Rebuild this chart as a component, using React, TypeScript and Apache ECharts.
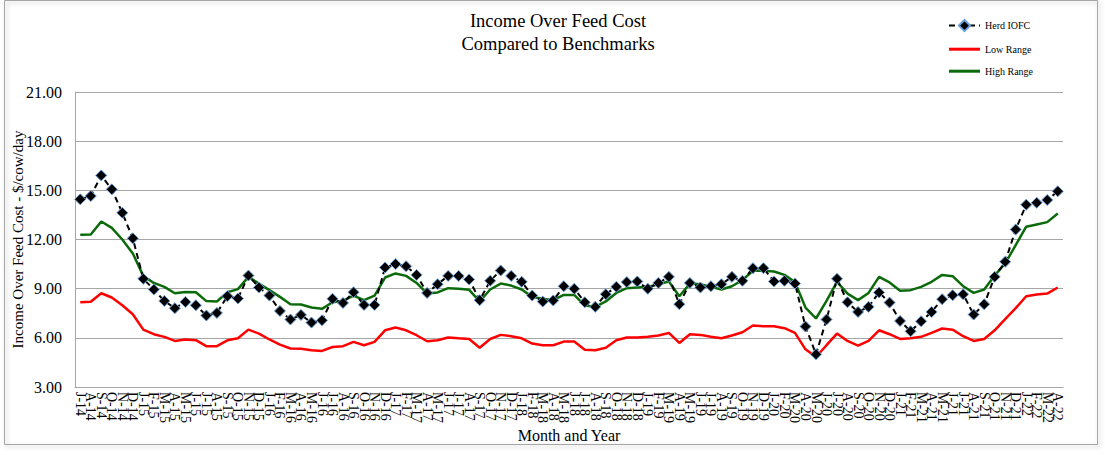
import React, { useEffect, useRef } from "react";
import * as echarts from "echarts";

const categories: string[] = [
  "J-14", "A-14", "S-14", "O-14", "N-14", "D-14",
  "J-15", "F-15", "M-15", "A-15", "M-15", "J-15", "J-15", "A-15", "S-15", "O-15", "N-15", "D-15",
  "J-16", "F-16", "M-16", "A-16", "M-16", "J-16", "J-16", "A-16", "S-16", "O-16", "N-16", "D-16",
  "J-17", "F-17", "M-17", "A-17", "M-17", "J-17", "J-17", "A-17", "S-17", "O-17", "N-17", "D-17",
  "J-18", "F-18", "M-18", "A-18", "M-18", "J-18", "J-18", "A-18", "S-18", "O-18", "N-18", "D-18",
  "J-19", "F-19", "M-19", "A-19", "M-19", "J-19", "J-19", "A-19", "S-19", "O-19", "N-19", "D-19",
  "J-20", "F-20", "M-20", "A-20", "M-20", "J-20", "J-20", "A-20", "S-20", "O-20", "N-20", "D-20",
  "J-21", "F-21", "M-21", "A-21", "M-21", "J-21", "J-21", "A-21", "S-21", "O-21", "N-21", "D-21",
  "J-22", "F-22", "M-22", "A-22",
];

const herdIOFC: number[] = [
  14.45, 14.65, 15.91, 15.06, 13.63, 12.07, 9.6, 8.95, 8.25, 7.81,
  8.19, 7.99, 7.36, 7.52, 8.54, 8.4, 9.8, 9.07, 8.58, 7.64,
  7.12, 7.4, 6.93, 7.07, 8.38, 8.13, 8.78, 8.01, 8.01, 10.29,
  10.5, 10.37, 9.84, 8.74, 9.27, 9.78, 9.78, 9.56, 8.3, 9.48,
  10.11, 9.78, 9.42, 8.58, 8.21, 8.28, 9.15, 8.99, 8.17, 7.89,
  8.66, 9.11, 9.4, 9.44, 8.99, 9.35, 9.72, 8.05, 9.35, 9.07,
  9.15, 9.27, 9.72, 9.48, 10.25, 10.25, 9.44, 9.48, 9.31, 6.69,
  5.0, 7.12, 9.6, 8.17, 7.58, 7.89, 8.77, 8.15, 7.03, 6.4,
  7.01, 7.58, 8.36, 8.6, 8.66, 7.42, 8.05, 9.72, 10.64, 12.61,
  14.12, 14.24, 14.41, 14.94,
];

const lowRange: number[] = [
  8.17, 8.2, 8.72, 8.46, 7.99, 7.44, 6.5, 6.22, 6.06, 5.81,
  5.9, 5.86, 5.49, 5.49, 5.85, 5.97, 6.5, 6.26, 5.9, 5.59,
  5.35, 5.34, 5.24, 5.2, 5.44, 5.49, 5.75, 5.55, 5.75, 6.46,
  6.63, 6.46, 6.16, 5.79, 5.85, 6.02, 5.97, 5.93, 5.4, 5.93,
  6.18, 6.1, 5.97, 5.65, 5.55, 5.55, 5.77, 5.77, 5.28, 5.24,
  5.4, 5.85, 6.02, 6.02, 6.06, 6.14, 6.3, 5.69, 6.22, 6.18,
  6.06, 5.97, 6.14, 6.34, 6.75, 6.71, 6.71, 6.59, 6.3, 5.3,
  4.83, 5.55, 6.26, 5.81, 5.53, 5.81, 6.46, 6.22, 5.93, 5.97,
  6.06, 6.3, 6.57, 6.5, 6.1, 5.81, 5.93, 6.46, 7.14, 7.81,
  8.54, 8.64, 8.7, 9.07,
];

const highRange: number[] = [
  12.29, 12.3, 13.1, 12.71, 12.0, 11.15, 9.78, 9.35, 9.11, 8.72,
  8.8, 8.78, 8.24, 8.22, 8.78, 8.97, 9.72, 9.31, 8.91, 8.5,
  8.05, 8.03, 7.85, 7.77, 8.17, 8.25, 8.58, 8.3, 8.58, 9.68,
  9.93, 9.78, 9.35, 8.7, 8.77, 9.03, 9.0, 8.93, 8.22, 8.95,
  9.31, 9.19, 8.95, 8.5, 8.38, 8.3, 8.62, 8.62, 7.97, 7.89,
  8.22, 8.74, 9.03, 9.07, 9.11, 9.27, 9.44, 8.54, 9.31, 9.27,
  9.11, 8.95, 9.15, 9.52, 10.09, 10.09, 10.05, 9.84, 9.4, 7.85,
  7.18, 8.25, 9.42, 8.7, 8.3, 8.74, 9.72, 9.38, 8.87, 8.91,
  9.11, 9.42, 9.84, 9.76, 9.15, 8.74, 8.95, 9.8, 10.54, 11.66,
  12.78, 12.92, 13.06, 13.59,
];

const FONT = "Liberation Serif, Times New Roman, serif";
const BAR_ICON = "path://M0,0 L31,0 L31,3 L0,3 Z";

export default function App() {
  const ref = useRef<HTMLDivElement>(null);

  useEffect(() => {
    document.body.style.margin = "0";
    if (!ref.current) return;
    const chart = echarts.init(ref.current, undefined, { renderer: "svg" });
    chart.setOption({
      animation: false,
      backgroundColor: "#ffffff",
      textStyle: { fontFamily: FONT, color: "#000" },
      graphic: [
        {
          type: "rect",
          shape: { x: 4.5, y: 0.5, width: 1093, height: 444 },
          style: {
            fill: "none",
            stroke: "#a6a6a6",
            lineWidth: 1,
            shadowBlur: 4,
            shadowOffsetX: 2,
            shadowOffsetY: 2,
            shadowColor: "rgba(0,0,0,0.25)",
          },
          silent: true,
          z: -1,
        },
      ],
      title: {
        text: "Income Over Feed Cost\nCompared to Benchmarks",
        left: 553,
        textAlign: "center",
        top: 4,
        textStyle: {
          fontFamily: FONT,
          fontSize: 18.5,
          fontWeight: "normal",
          color: "#000",
          lineHeight: 23,
        },
      },
      legend: {
        orient: "vertical",
        left: 943,
        top: 14,
        itemWidth: 31,
        itemHeight: 14,
        itemGap: 12,
        textStyle: { fontFamily: FONT, fontSize: 10, color: "#000" },
        data: [
          { name: "Herd IOFC" },
          { name: "Low Range", icon: BAR_ICON },
          { name: "High Range", icon: BAR_ICON },
        ],
      },
      grid: {
        left: 75,
        right: 42,
        top: 92,
        bottom: 68,
        containLabel: false,
        outerBoundsMode: "none",
      },
      xAxis: {
        type: "category",
        data: categories,
        boundaryGap: true,
        name: "Month and Year",
        nameLocation: "middle",
        nameGap: 40,
        nameMoveOverlap: false,
        nameTextStyle: { fontFamily: FONT, fontSize: 16, color: "#000" },
        axisLine: { lineStyle: { color: "#a6a6a6", width: 1 } },
        axisTick: { show: false },
        axisLabel: {
          interval: 0,
          rotate: -90,
          margin: 5,
          fontFamily: FONT,
          fontSize: 14,
          color: "#000",
        },
        splitLine: { show: false },
      },
      yAxis: {
        type: "value",
        min: 3,
        max: 21,
        interval: 3,
        name: "Income Over Feed Cost - $/cow/day",
        nameLocation: "middle",
        nameGap: 50,
        nameMoveOverlap: false,
        nameTextStyle: { fontFamily: FONT, fontSize: 15, color: "#000" },
        axisLine: { show: true, lineStyle: { color: "#a6a6a6", width: 1 } },
        axisTick: { show: false },
        axisLabel: {
          margin: 13,
          fontFamily: FONT,
          fontSize: 16,
          color: "#000",
          formatter: (v: number) => v.toFixed(2),
        },
        splitLine: { show: true, lineStyle: { color: "#a6a6a6", width: 1 } },
      },
      series: [
        {
          name: "Herd IOFC",
          type: "line",
          data: herdIOFC,
          symbol: "diamond",
          symbolSize: 11,
          showAllSymbol: true,
          itemStyle: { color: "#000000", borderColor: "#6a9fd8", borderWidth: 1 },
          lineStyle: { color: "#000000", width: 2, type: [6, 4] },
          z: 3,
        },
        {
          name: "Low Range",
          type: "line",
          data: lowRange,
          symbol: "none",
          itemStyle: { color: "#ff0000" },
          lineStyle: { color: "#ff0000", width: 2.5 },
          z: 2,
        },
        {
          name: "High Range",
          type: "line",
          data: highRange,
          symbol: "none",
          itemStyle: { color: "#0b6b0b" },
          lineStyle: { color: "#0b6b0b", width: 2.5 },
          z: 2,
        },
      ],
    });
    return () => chart.dispose();
  }, []);

  return (
    <div
      ref={ref}
      style={{ position: "absolute", left: 0, top: 0, width: 1105, height: 455 }}
    />
  );
}
